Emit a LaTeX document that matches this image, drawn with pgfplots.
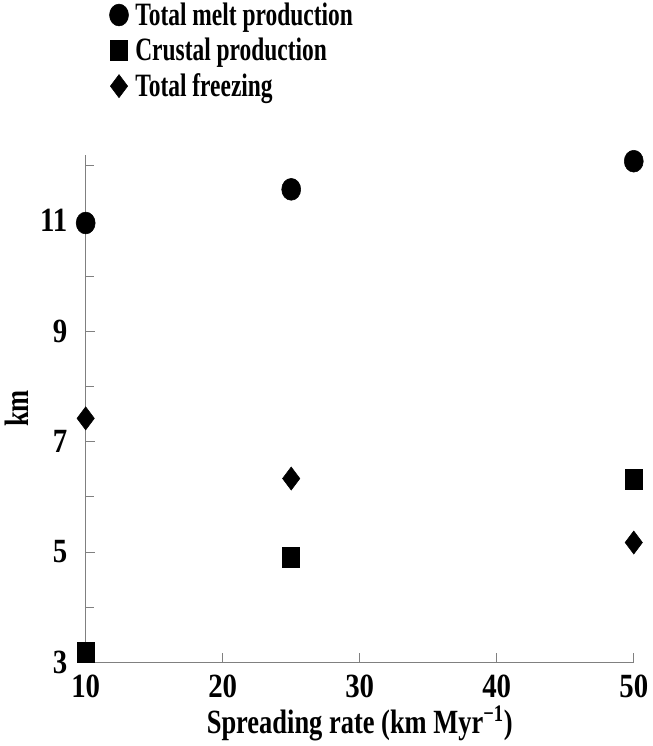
\documentclass[border=0pt]{standalone}
\usepackage{pgfplots}
\pgfplotsset{compat=1.18}
\usepackage{fontspec}
\setmainfont{Liberation Serif}[FakeStretch=0.78]
\newfontfamily\legfont{Liberation Serif}[FakeStretch=0.72]
\newfontfamily\tickfont{Liberation Serif}[FakeStretch=0.85]
\begin{document}
\begin{tikzpicture}
\begin{axis}[
  scale only axis,
  width=404pt, height=374.25pt,
  xmin=10, xmax=50, ymin=3, ymax=12.2,
  axis x line=bottom, axis y line=left,
  axis line style={-, gray, line width=0.8pt},
  xtick={10,20,30,40,50},
  ytick={3,5,7,9,11},
  minor ytick={4,6,8,10,12},
  tick align=inside,
  major tick length=7pt, minor tick length=6pt,
  tick style={gray, line width=0.6pt},
  /pgf/number format/assume math mode=true,
  tick label style={font=\fontsize{25}{25}\tickfont\bfseries},
  yticklabel style={xshift=-10pt},
  xticklabel style={yshift=-6pt},
  xlabel={Spreading rate (km Myr\textsuperscript{−1})},
  ylabel={km},
  label style={font=\fontsize{25}{25}\selectfont\bfseries},
  xlabel style={yshift=1pt},
  ylabel style={yshift=2pt},
  clip=false,
  legend style={at={(axis description cs:0.043,1.305)}, anchor=north west, draw=none, fill=none,
    font=\fontsize{24}{24}\legfont\bfseries, row sep=4pt, column sep=3pt, inner sep=0pt},
  legend cell align=left,
  legend image code/.code={\draw[#1] plot coordinates {(0pt,0pt)};},
]
\addplot[only marks, mark=*, mark size=7pt, mark options={yscale=1.15}, black] coordinates {(10,10.96) (25,11.57) (50,12.08)};
\addlegendentry{Total melt production}
\addplot[only marks, mark=square*, mark size=6.3pt, mark options={yscale=1.17}, black] coordinates {(10,3.18) (25,4.9) (50,6.31)};
\addlegendentry{Crustal production}
\addplot[only marks, mark=diamond*, mark size=8.5pt, black] coordinates {(10,7.42) (25,6.33) (50,5.17)};
\addlegendentry{Total freezing}
\end{axis}
\end{tikzpicture}
\end{document}
